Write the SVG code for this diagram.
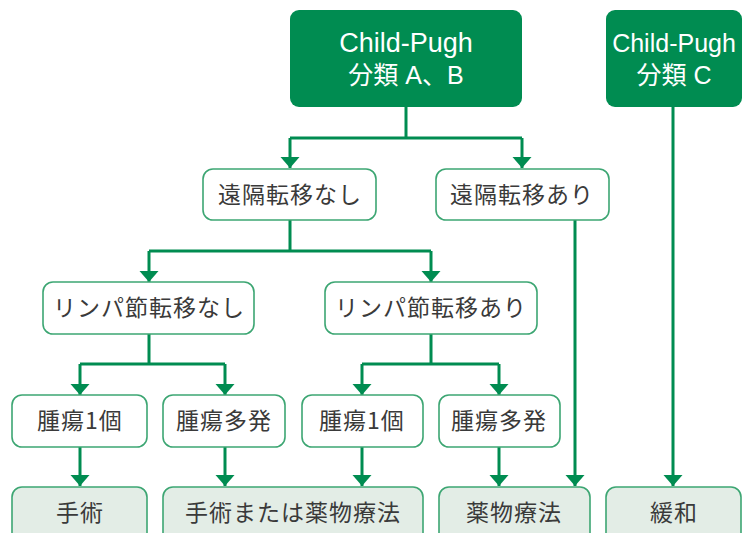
<svg xmlns="http://www.w3.org/2000/svg" width="743" height="533" viewBox="0 0 743 533">
<defs>
<style>
.top{fill:#008c51;}
.tt{fill:#ffffff;font-family:"Liberation Sans","Noto Sans CJK JP",sans-serif;font-size:25px;text-anchor:middle;}
.big{font-size:27px;}
.n{fill:#ffffff;stroke:#3da673;stroke-width:1.6;}
.r{fill:#e3ede6;stroke:#3da673;stroke-width:1.6;}
.t{fill:#3a3a3a;font-family:"Noto Sans CJK JP","Liberation Sans",sans-serif;font-size:23px;text-anchor:middle;letter-spacing:1px;}
.c{fill:none;stroke:#008c51;stroke-width:3;}
</style>
<marker id="ah" markerUnits="userSpaceOnUse" markerWidth="12" markerHeight="20" viewBox="0 -10 12 20" refX="11" refY="0" orient="auto">
<path d="M0,-9.5 L11,0 L0,9.5 Z" fill="#008c51"/>
</marker>
</defs>
<rect width="743" height="533" fill="#ffffff"/>
<g id="connectors">
<path class="c" d="M406,107 V138"/>
<path class="c" d="M290,138 H522"/>
<path class="c" d="M290,138 V168" marker-end="url(#ah)"/>
<path class="c" d="M522,138 V168" marker-end="url(#ah)"/>
<path class="c" d="M290,220 V251 M149,251 H431"/>
<path class="c" d="M149,251 V282" marker-end="url(#ah)"/>
<path class="c" d="M431,251 V282" marker-end="url(#ah)"/>
<path class="c" d="M149,334 V364 M80,364 H225"/>
<path class="c" d="M80,364 V395" marker-end="url(#ah)"/>
<path class="c" d="M225,364 V395" marker-end="url(#ah)"/>
<path class="c" d="M431,334 V364 M362,364 H499"/>
<path class="c" d="M362,364 V395" marker-end="url(#ah)"/>
<path class="c" d="M499,364 V395" marker-end="url(#ah)"/>
<path class="c" d="M80,447 V486" marker-end="url(#ah)"/>
<path class="c" d="M225,447 V486" marker-end="url(#ah)"/>
<path class="c" d="M362,447 V486" marker-end="url(#ah)"/>
<path class="c" d="M499,447 V486" marker-end="url(#ah)"/>
<path class="c" d="M575,220 V486" marker-end="url(#ah)"/>
<path class="c" d="M673,107 V486" marker-end="url(#ah)"/>
</g>
<g id="cp-ab">
<rect class="top" x="290" y="10" width="232" height="97" rx="9"/>
<text class="tt big" x="406" y="52">Child-Pugh</text>
<text class="tt" x="406" y="84">分類 A、B</text>
</g>
<g id="cp-c">
<rect class="top" x="606" y="10" width="136" height="97" rx="9"/>
<text class="tt" x="674" y="52">Child-Pugh</text>
<text class="tt" x="674" y="84">分類 C</text>
</g>
<g id="enkaku-nashi">
<rect class="n" x="203" y="169" width="173" height="51" rx="10"/>
<text class="t" x="290" y="203">遠隔転移なし</text>
</g>
<g id="enkaku-ari">
<rect class="n" x="436" y="169" width="173" height="51" rx="10"/>
<text class="t" x="522" y="203">遠隔転移あり</text>
</g>
<g id="lymph-nashi">
<rect class="n" x="43" y="282" width="211" height="52" rx="10"/>
<text class="t" x="149" y="316">リンパ節転移なし</text>
</g>
<g id="lymph-ari">
<rect class="n" x="325" y="282" width="212" height="52" rx="10"/>
<text class="t" x="431" y="316">リンパ節転移あり</text>
</g>
<g id="tumor1-a">
<rect class="n" x="12" y="395" width="135" height="52" rx="10"/>
<text class="t" x="80" y="429">腫瘍1個</text>
</g>
<g id="tumor-multi-a">
<rect class="n" x="163" y="395" width="122" height="52" rx="10"/>
<text class="t" x="224" y="429">腫瘍多発</text>
</g>
<g id="tumor1-b">
<rect class="n" x="302" y="395" width="121" height="52" rx="10"/>
<text class="t" x="362" y="429">腫瘍1個</text>
</g>
<g id="tumor-multi-b">
<rect class="n" x="439" y="395" width="121" height="52" rx="10"/>
<text class="t" x="499" y="429">腫瘍多発</text>
</g>
<g id="surgery">
<rect class="r" x="12" y="487" width="135" height="60" rx="10"/>
<text class="t" x="80" y="521">手術</text>
</g>
<g id="surgery-or-drug">
<rect class="r" x="163" y="487" width="260" height="60" rx="10"/>
<text class="t" x="293" y="521">手術または薬物療法</text>
</g>
<g id="drug">
<rect class="r" x="439" y="487" width="151" height="60" rx="10"/>
<text class="t" x="514" y="521">薬物療法</text>
</g>
<g id="palliative">
<rect class="r" x="606" y="487" width="135" height="60" rx="10"/>
<text class="t" x="674" y="521">緩和</text>
</g>
</svg>
